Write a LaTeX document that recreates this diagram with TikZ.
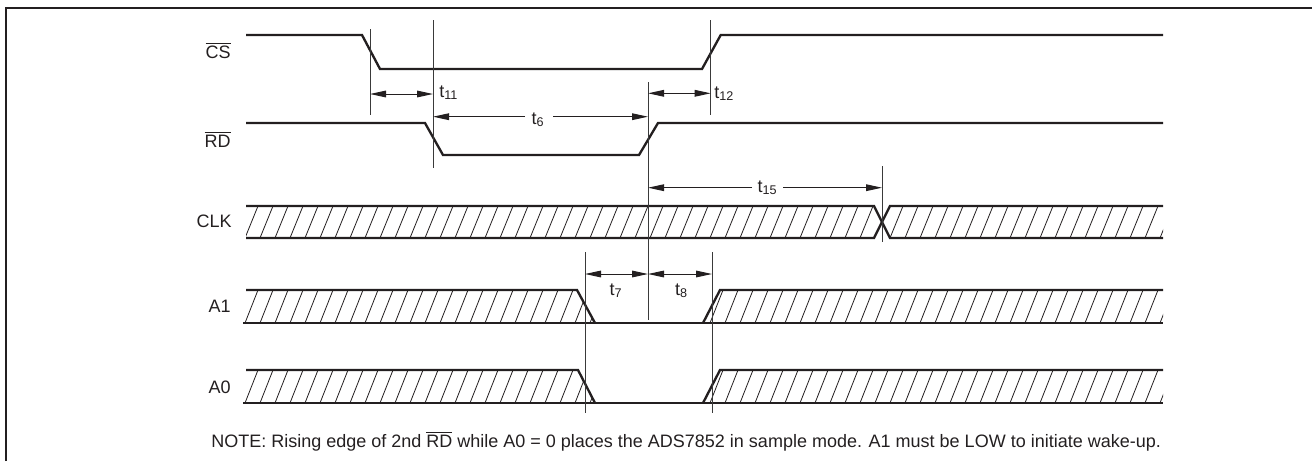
\documentclass[tikz,border=0pt]{standalone}
\usepackage{fontspec}
\setmainfont{Liberation Sans}
\usetikzlibrary{arrows.meta}
\definecolor{sigc}{HTML}{231F20}
\definecolor{refc}{HTML}{3A3A3A}
\newcommand{\myhatch}[2]{\foreach \k in {0,...,62} \draw[hatchln] ({245+15*\k},#2) -- ({258+15*\k},#1);}
\begin{document}
\begin{tikzpicture}[x=0.75pt,y=-0.75pt,
  sig/.style={line width=1.75pt, color=sigc, line join=miter},
  frameln/.style={line width=1.9pt, color=sigc},
  refln/.style={line width=0.75pt, color=refc},
  hatchln/.style={line width=0.6pt, color=sigc},
  dimln/.style={line width=0.75pt, color=sigc, {Triangle[length=12pt,width=5pt]}-{Triangle[length=12pt,width=5pt]}},
  dimone/.style={line width=0.75pt, color=sigc, -{Triangle[length=12pt,width=5pt]}},
  lbl/.style={font=\fontsize{13.5}{16}\selectfont, inner sep=0pt, text=sigc},
]
\useasboundingbox (0,0) rectangle (1312,461);
% frame
\draw[frameln] (6,461) -- (6,8) -- (1312,8);

% signal labels
\node[lbl, anchor=base east] (lcs) at (231,58) {$\overline{\hbox{CS}}$};
\node[lbl, anchor=base east] (lrd) at (231,147) {$\overline{\hbox{RD}}$};
\node[lbl, anchor=base east] (lclk) at (232,227) {CLK};
\node[lbl, anchor=base east] (la1) at (231,312) {A1};
\node[lbl, anchor=base east] (la0) at (231,393) {A0};

% CS and RD
\draw[sig] (246,35) -- (362,35) -- (380,69) -- (702,69) -- (720.7,35) -- (1163,35);
\draw[sig] (246,123) -- (425,123) -- (443,155) -- (639,155) -- (658,123) -- (1163,123);

% CLK
\begin{scope}
  \clip (246,206) -- (874,206) -- (882,222) -- (874,238) -- (246,238) -- cycle;
  \myhatch{206}{238}
\end{scope}
\begin{scope}
  \clip (882,222) -- (890,206) -- (1163,206) -- (1163,238) -- (890,238) -- cycle;
  \myhatch{206}{238}
\end{scope}
\draw[sig] (246,206) -- (874,206) -- (890,238) -- (1163,238);
\draw[sig] (246,238) -- (874,238) -- (890,206) -- (1163,206);

% A1
\begin{scope}
  \clip (246,290) -- (577,290) -- (595,323) -- (243,323) -- cycle;
  \myhatch{290}{323}
\end{scope}
\begin{scope}
  \clip (720,290) -- (1163,290) -- (1163,323) -- (703,323) -- cycle;
  \myhatch{290}{323}
\end{scope}
\draw[sig] (246,290) -- (577,290) -- (595,323);
\draw[sig] (243,323) -- (1163,323);
\draw[sig] (703,323) -- (720,290) -- (1163,290);

% A0
\begin{scope}
  \clip (246,370) -- (578,370) -- (595,403) -- (243,403) -- cycle;
  \myhatch{370}{403}
\end{scope}
\begin{scope}
  \clip (720,370) -- (1163,370) -- (1163,403) -- (703,403) -- cycle;
  \myhatch{370}{403}
\end{scope}
\draw[sig] (246,370) -- (578,370) -- (595,403);
\draw[sig] (243,403) -- (1163,403);
\draw[sig] (703,403) -- (720,370) -- (1163,370);

% reference lines
\coordinate (v1t) at (370,29);  \coordinate (v1b) at (370,115);
\coordinate (v2t) at (433,20);  \coordinate (v2b) at (433,168);
\coordinate (v3t) at (648,82);  \coordinate (v3b) at (648,320);
\coordinate (v4t) at (710.7,20);\coordinate (v4b) at (710.7,115);
\coordinate (v5t) at (882,166); \coordinate (v5b) at (882,242);
\coordinate (v6t) at (585,252); \coordinate (v6b) at (585,413);
\coordinate (v7t) at (712,252); \coordinate (v7b) at (712,413);
\foreach \v in {1,...,7} \draw[refln] (v\v t) -- (v\v b);

% timing labels
\node[lbl, anchor=base west] (t11) at (439,97) {t\textsubscript{11}};
\node[lbl, anchor=base west] (t12) at (714,98) {t\textsubscript{12}};
\node[lbl, anchor=base] (t6) at (538,124) {t\textsubscript{6}};
\node[lbl, anchor=base] (t15) at (767.5,192) {t\textsubscript{15}};
\node[lbl, anchor=base] (t7) at (616,295) {t\textsubscript{7}};
\node[lbl, anchor=base] (t8) at (681.5,295) {t\textsubscript{8}};

% dimension arrows
\draw[dimln] (370,94) -- (433,94);
\draw[dimln] (648,93.3) -- (710.7,93.3);
\draw[dimone] (525,116.7) -- (433,116.7);
\draw[dimone] (553,116.7) -- (648,116.7);
\draw[dimone] (752,187.7) -- (648,187.7);
\draw[dimone] (783,187.7) -- (882,187.7);
\draw[dimln] (585,274) -- (648,274);
\draw[dimln] (648,274) -- (712,274);

% note
\node[lbl, anchor=base west] (note) at (211,447) {NOTE: Rising edge of 2nd $\overline{\hbox{RD}}$ while A0 = 0 places the ADS7852 in sample mode. A1 must be LOW to initiate wake-up.};
\end{tikzpicture}
\end{document}
